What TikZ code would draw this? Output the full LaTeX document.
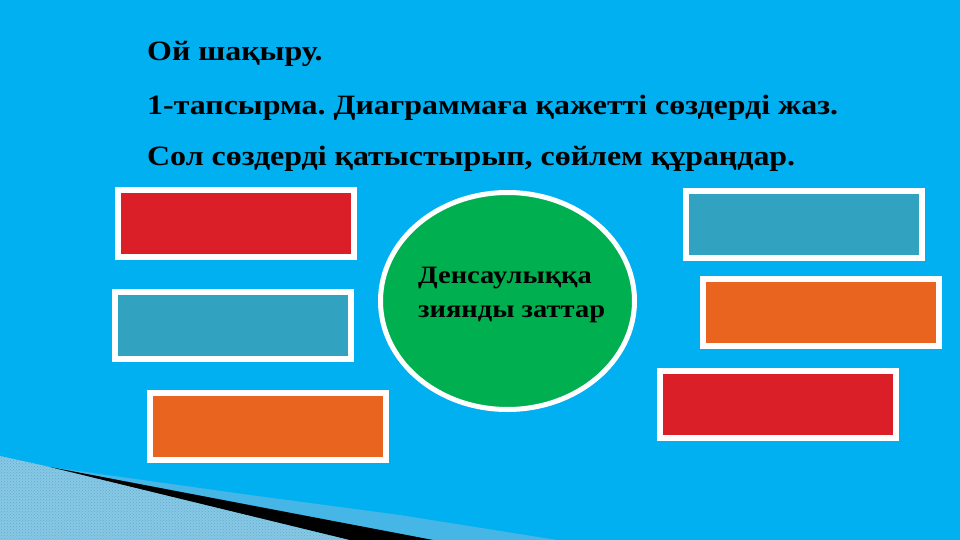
\documentclass[tikz,border=0pt]{standalone}
\usepackage{fontspec}
\setmainfont{Liberation Serif}
\newfontfamily\widefont[FakeStretch=1.14]{Liberation Serif}
\usetikzlibrary{shapes.geometric,shadows,patterns}
\definecolor{bgblue}{RGB}{0,176,240}
\definecolor{boxred}{RGB}{218,31,40}
\definecolor{boxteal}{RGB}{49,163,192}
\definecolor{boxorange}{RGB}{233,100,30}
\definecolor{ovalgreen}{RGB}{0,176,80}
\definecolor{hatchblue}{RGB}{135,200,228}
\definecolor{hatchdot}{RGB}{95,170,210}
\definecolor{bandblue}{RGB}{70,182,230}
\tikzset{
  framebox/.style={draw=white, line width=6pt, minimum width=236pt, minimum height=67pt, inner sep=0pt,
    drop shadow={shadow xshift=1pt, shadow yshift=-2pt, fill=black, opacity=0.22}},
  titletext/.style={anchor=base west, inner sep=0pt, font=\widefont\fontsize{28}{30}\selectfont\bfseries},
}
\begin{document}
\frenchspacing
\begin{tikzpicture}[x=1pt,y=-1pt]
\fill[bgblue] (0,0) rectangle (960,540);
\useasboundingbox (0,0) rectangle (960,540);
% bottom-left decoration
\fill[hatchblue] (0,456) -- (50,467) -- (350,540) -- (0,540) -- cycle;
\fill[pattern=crosshatch dots, pattern color=hatchdot] (0,456) -- (50,467) -- (350,540) -- (0,540) -- cycle;
\fill[bandblue] (50,467) -- (250,495) -- (400,515) -- (557,540) -- (433,540) -- cycle;
\fill[black] (50,467) -- (433,540) -- (350,540) -- cycle;
% title
\node[titletext] (t1) at (147,61) {Ой шақыру.};
\node[titletext] (t2) at (147,115) {1-тапсырма. Диаграммаға қажетті сөздерді жаз.};
\node[titletext] (t3) at (147,166) {Сол сөздерді қатыстырып, сөйлем құраңдар.};
% boxes
\node[framebox, fill=boxred] (b1) at (236,223) {};
\node[framebox, fill=boxteal] (b2) at (233,325.5) {};
\node[framebox, fill=boxorange] (b3) at (268,426.5) {};
\node[framebox, fill=boxteal] (b4) at (803.5,224.5) {};
\node[framebox, fill=boxorange] (b5) at (820.5,312.5) {};
\node[framebox, fill=boxred] (b6) at (778,404.5) {};
% central ellipse
\node[ellipse, draw=white, line width=5pt, fill=ovalgreen, minimum width=254pt, minimum height=217pt, inner sep=0pt] (c) at (507.5,301) {};
\node[anchor=base west, inner sep=0pt, align=left, font=\widefont\fontsize{25}{34}\selectfont\bfseries] (ct) at (418,317) {Денсаулыққа\\зиянды заттар};
\end{tikzpicture}
\end{document}
